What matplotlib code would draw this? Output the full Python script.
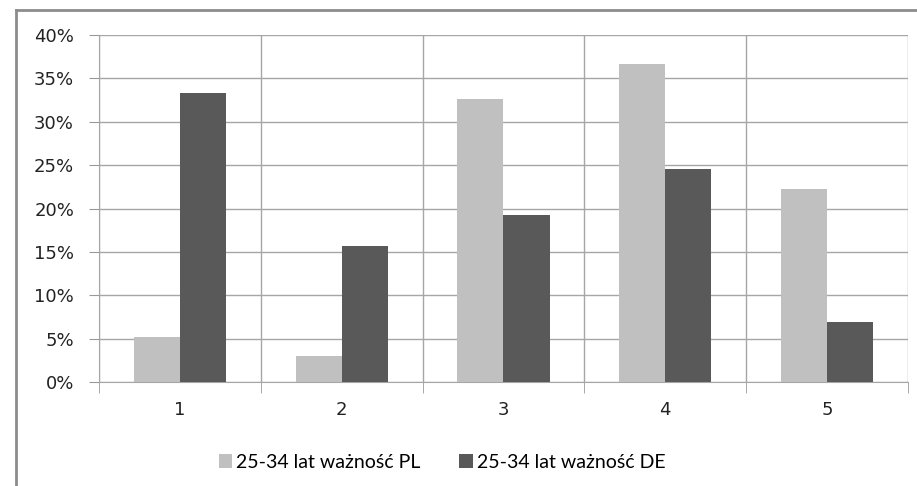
import matplotlib.pyplot as plt
from matplotlib.lines import Line2D
import numpy as np

# dane
kategorie = ['1', '2', '3', '4', '5']
pl = [5.2, 3.0, 32.6, 36.7, 22.3]
de = [33.3, 15.7, 19.3, 24.6, 6.9]
etykiety = ['25-34 lat ważność PL', '25-34 lat ważność DE']
kolory = ['#c0c0c0', '#595959']

fig = plt.figure(figsize=(9.17, 4.86), dpi=100)
ax = fig.add_axes([99 / 917, 1 - 382 / 486, 809 / 917, 347 / 486])

# ramka dokumentu
fig.add_artist(Line2D([16 / 917, 1.0], [1 - 10 / 486, 1 - 10 / 486], color='#8c8c8c', lw=2))
fig.add_artist(Line2D([16 / 917, 16 / 917], [0, 1 - 10 / 486], color='#8c8c8c', lw=2))

x = np.arange(len(kategorie))
w = 0.285
ax.bar(x - w / 2, pl, w, color=kolory[0], label=etykiety[0], zorder=3)
ax.bar(x + w / 2, de, w, color=kolory[1], label=etykiety[1], zorder=3)

ax.set_xlim(-0.5, 4.5)
ax.set_ylim(0, 40)
ax.set_yticks(range(0, 41, 5))
ax.set_yticklabels([f'{v}%' for v in range(0, 41, 5)], fontsize=13, color='#222222')
ax.set_xticks(x)
ax.set_xticklabels(kategorie, fontsize=13, color='#222222')
ax.tick_params(axis='x', length=0, pad=14)
ax.tick_params(axis='y', length=7, color='#999999', pad=11)

ax.set_xticks(np.arange(-0.5, 5, 1), minor=True)
ax.tick_params(axis='x', which='minor', length=8, color='#999999')
ax.grid(axis='y', color='#a6a6a6', lw=1, zorder=0)
ax.grid(axis='x', which='minor', color='#a6a6a6', lw=1, zorder=0)

for s in ax.spines.values():
    s.set_color('#a6a6a6')
ax.spines['top'].set_visible(False)
ax.spines['right'].set_visible(False)

ax.legend(loc='center', bbox_to_anchor=(442 / 917, 1 - 462 / 486), bbox_transform=fig.transFigure,
          ncol=2, frameon=False,
          prop={'family': 'Lato', 'size': 14}, handlelength=0.7, handleheight=0.7,
          handletextpad=0.2, columnspacing=2.0)

fig.savefig('out.png', dpi=100)
